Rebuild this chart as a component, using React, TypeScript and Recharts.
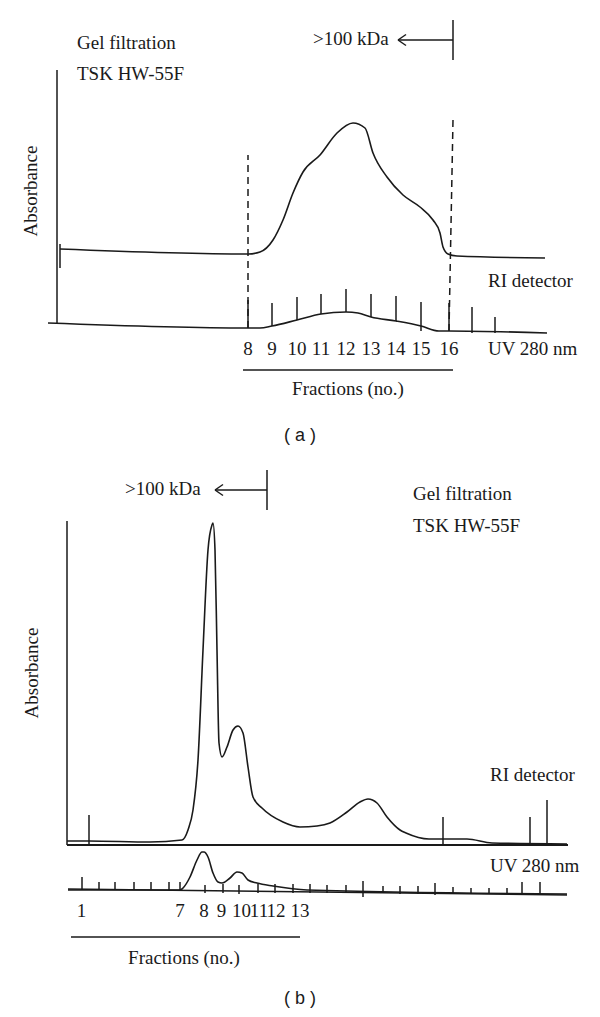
import React from 'react';
import { LineChart, Line, XAxis, YAxis, ReferenceLine } from 'recharts';

// elution position is in arbitrary units (0 = start of run), signal in a.u.

// ---- panel (a) ----
const riElutionA = [0.6, 38.2, 40.6, 43.2, 45.2, 47.2, 49.2, 52.6, 56, 59.2, 61.6, 63.2, 66, 69.2, 72.6, 75.2, 76.6, 77.2, 78.2, 80, 97.6];
const riSignalA = [33.6, 31.6, 32.4, 37.2, 45.2, 56, 64.4, 71.2, 80, 84, 82, 72, 62.4, 55.2, 50.4, 45.2, 40, 34.4, 31.6, 30.8, 30];
const uvElutionA = [-1.8, 38.2, 40.6, 43, 48, 52.8, 57.8, 60.2, 62.8, 67.8, 72.8, 76.4, 78.4, 98];
const uvSignalA = [4, 2, 2, 2.8, 5.2, 7.6, 8.4, 8, 6.4, 4.8, 2.8, 0.8, 0.8, 0];

// fraction collector marks (8 ... 18)
const fractionPosA = [38.2, 43, 48, 52.8, 57.8, 62.8, 67.8, 72.8, 78.4, 83, 87.6];
const fractionTopA = [13.2, 12, 14.4, 15.6, 17.6, 15.6, 14.8, 12.4, 12, 10.4, 6.4];
const fractionBaseA = [2, 2.8, 5.2, 7.6, 8.4, 6.4, 4.8, 0.8, 0.8, 0, 0];
const fractionLabelsA = ['8', '9', '10', '11', '12', '13', '14', '15', '16'];

// ---- panel (b) ----
const riElutionB = [0, 4.4, 16.6, 23, 24.2, 25.2, 26.2, 27.2, 28.2, 29, 29.2, 29.6, 30, 30.4, 31, 32, 33.2, 34.2, 35.2, 36.2, 37.2, 39, 43.2, 46.6, 50, 52.6, 56, 58.6, 60.2, 62, 64, 66.6, 67.8, 72.4, 80, 85, 100];
const riSignalB = [21.6, 21.6, 21.2, 22, 26, 34, 54, 98, 138, 148, 148.8, 138, 98, 60.8, 55.2, 59.2, 66, 67.6, 64.8, 51.2, 39.2, 34.8, 29.2, 27.2, 27.6, 28.8, 33.2, 37.2, 38.4, 36.8, 31.2, 26, 24.8, 22.4, 22.4, 20.8, 20.4];
const uvElutionB = [0.2, 22.6, 23.2, 24.6, 26, 27, 27.4, 28.2, 29.2, 30.2, 31, 32.6, 34, 35, 36.2, 38, 41.2, 48, 100];
const uvSignalB = [2, 2, 2.8, 7.2, 14, 17.2, 17.2, 15.2, 8.8, 5.2, 4.8, 6.8, 9.2, 8.8, 6, 4.8, 3.6, 2, 0.4];
const uvBaseElutionB = [0.2, 100];
const uvBaseSignalB = [2.4, 0];

const riMarkPosB = [4.4, 75.2, 92.6, 96];
const riMarkTopB = [32, 31.2, 31.2, 38];

const fractionPosB = [3, 6.4, 9.6, 13.4, 16.8, 20.4, 22.6, 27.6, 31.2, 34.4, 38.2, 41.6, 45.2, 48.6, 52, 55.8, 59.2, 63.2, 66.6, 70.2, 73.6, 77.2, 80.8, 84.4, 88, 91, 94.6];
const fractionTopB = [7.2, 5.2, 5.2, 5.2, 5.2, 5.2, 5.2, 4, 4.4, 4, 4.4, 4.4, 4.4, 4.4, 4, 4, 5.6, 3.6, 3.6, 3.6, 4.8, 3.2, 2.8, 2.8, 2.8, 5.2, 5.2];
const fractionBaseB = [2, 2, 2, 2, 2, 2, 2, 0.8, 0.8, 0.4, 0.8, 0.8, 0.8, 0.8, 0.8, 0.8, -0.8, 0.8, 0.4, 0.4, 0, 0.4, 0.4, 0.4, 0.4, 0.4, 0.4];
const fractionLabelPosB = [2.9, 22.6, 27.4, 30.9, 34.9, 38.4, 41.8, 46.6];
const fractionLabelsB = ['1', '7', '8', '9', '10', '11', '12', '13'];

const zip = (xs: number[], ys: number[]) => xs.map((v, i) => ({ v, u: ys[i] }));

const INK = '#1a1a1a';
const SERIF = '"Liberation Serif", "Times New Roman", serif';
const tickStyle = { fontFamily: SERIF, fontSize: 19, fill: INK };

const seg = (key: string, x1: number, y1: number, x2: number, y2: number, extra: any = {}) => (
  <ReferenceLine
    key={key}
    segment={[{ x: x1, y: y1 }, { x: x2, y: y2 }]}
    stroke={INK}
    strokeWidth={1.5}
    ifOverflow="visible"
    {...extra}
  />
);

const arrow = (id: string, from: number, to: number, y: number, y1: number, y2: number) => [
  seg(id + '-tick', from, y1, from, y2),
  seg(id + '-shaft', from, y, to, y),
  seg(id + '-h1', to, y, to + 1.6, y + 2.2),
  seg(id + '-h2', to, y, to + 1.6, y - 2.2),
];

function PanelA() {
  return (
    <LineChart width={600} height={450} margin={{ top: 68, right: 53, bottom: 82, left: 47 }}>
      <XAxis
        dataKey="v"
        type="number"
        domain={[-2, 98]}
        ticks={fractionPosA.slice(0, fractionLabelsA.length)}
        tickFormatter={(_v: number, i: number) => fractionLabelsA[i]}
        interval={0}
        axisLine={false}
        tickLine={false}
        tickSize={0}
        tickMargin={4}
        height={30}
        tick={tickStyle}
      />
      <YAxis type="number" domain={[-2, 106]} hide />
      <Line data={zip(riElutionA, riSignalA)} dataKey="u" type="monotone" stroke={INK} strokeWidth={1.6} dot={false} isAnimationActive={false} />
      <Line data={zip(uvElutionA, uvSignalA)} dataKey="u" type="monotone" stroke={INK} strokeWidth={1.6} dot={false} isAnimationActive={false} />
      {seg('yaxis', 0, 4, 0, 105.2)}
      {seg('ri-start', 0.6, 26, 0.6, 35.6)}
      {fractionPosA.map((p, i) => seg('fa' + i, p, fractionBaseA[i], p, fractionTopA[i]))}
      {seg('dash-l', 38.2, 2, 38.2, 71.2, { strokeDasharray: '7 5' })}
      {seg('dash-r', 78.4, 0.8, 79.2, 85.2, { strokeDasharray: '7 5' })}
      {arrow('kda', 79.2, 68.2, 117.2, 109.2, 125.2)}
      {seg('frac', 37.2, -14.8, 79.2, -14.8)}
    </LineChart>
  );
}

function PanelB() {
  return (
    <LineChart width={600} height={567} margin={{ top: 70, right: 33, bottom: 87, left: 67 }}>
      <XAxis
        dataKey="v"
        type="number"
        domain={[0, 100]}
        ticks={fractionLabelPosB}
        tickFormatter={(_v: number, i: number) => fractionLabelsB[i]}
        interval={0}
        axisLine={false}
        tickLine={false}
        tickSize={0}
        tickMargin={4}
        height={30}
        tick={tickStyle}
      />
      <YAxis type="number" domain={[-2, 150]} hide />
      <Line data={zip(riElutionB, riSignalB)} dataKey="u" type="monotone" stroke={INK} strokeWidth={1.6} dot={false} isAnimationActive={false} />
      <Line data={zip(uvBaseElutionB, uvBaseSignalB)} dataKey="u" type="linear" stroke={INK} strokeWidth={1.6} dot={false} isAnimationActive={false} />
      <Line data={zip(uvElutionB, uvSignalB)} dataKey="u" type="monotone" stroke={INK} strokeWidth={1.6} dot={false} isAnimationActive={false} />
      {seg('yaxis', 0, 20, 0, 149.6)}
      {seg('ri-axis', 0, 20, 100.2, 20, { strokeWidth: 2.2 })}
      {riMarkPosB.map((p, i) => seg('rm' + i, p, 20, p, riMarkTopB[i]))}
      {fractionPosB.map((p, i) => seg('fb' + i, p, fractionBaseB[i], p, fractionTopB[i]))}
      {arrow('kda', 40, 29.6, 162, 154, 170)}
      {seg('frac', 0.8, -16.8, 46.6, -16.8)}
    </LineChart>
  );
}

export default function App() {
  const t = { fontFamily: SERIF, fontSize: 19, fill: INK } as const;
  return (
    <div style={{ position: 'absolute', left: 0, top: 0, width: 600, height: 1017, background: '#fff' }}>
      <div style={{ position: 'absolute', left: 0, top: 0 }}>
        <PanelA />
      </div>
      <div style={{ position: 'absolute', left: 0, top: 450 }}>
        <PanelB />
      </div>
      {/* annotations */}
      <svg width={600} height={1017} style={{ position: 'absolute', left: 0, top: 0, pointerEvents: 'none' }}>
        <text x={77} y={49} {...t}>Gel filtration</text>
        <text x={77} y={80} {...t}>TSK HW-55F</text>
        <text x={313} y={45} {...t}>&gt;100 kDa</text>
        <text transform="translate(37,191) rotate(-90)" textAnchor="middle" {...t}>Absorbance</text>
        <text x={488} y={287} {...t}>RI detector</text>
        <text x={488} y={355} {...t}>UV 280 nm</text>
        <text x={348} y={395} textAnchor="middle" {...t}>Fractions (no.)</text>
        <text x={300} y={441} textAnchor="middle" fontFamily='"Liberation Sans", Arial, sans-serif' fontSize={18} fill={INK}>( a )</text>

        <text x={125} y={495} {...t}>&gt;100 kDa</text>
        <text x={413} y={500} {...t}>Gel filtration</text>
        <text x={413} y={532} {...t}>TSK HW-55F</text>
        <text transform="translate(38,673) rotate(-90)" textAnchor="middle" {...t}>Absorbance</text>
        <text x={490} y={781} {...t}>RI detector</text>
        <text x={490} y={872} {...t}>UV 280 nm</text>
        <text x={184} y={964} textAnchor="middle" {...t}>Fractions (no.)</text>
        <text x={300} y={1004} textAnchor="middle" fontFamily='"Liberation Sans", Arial, sans-serif' fontSize={18} fill={INK}>( b )</text>
      </svg>
    </div>
  );
}
